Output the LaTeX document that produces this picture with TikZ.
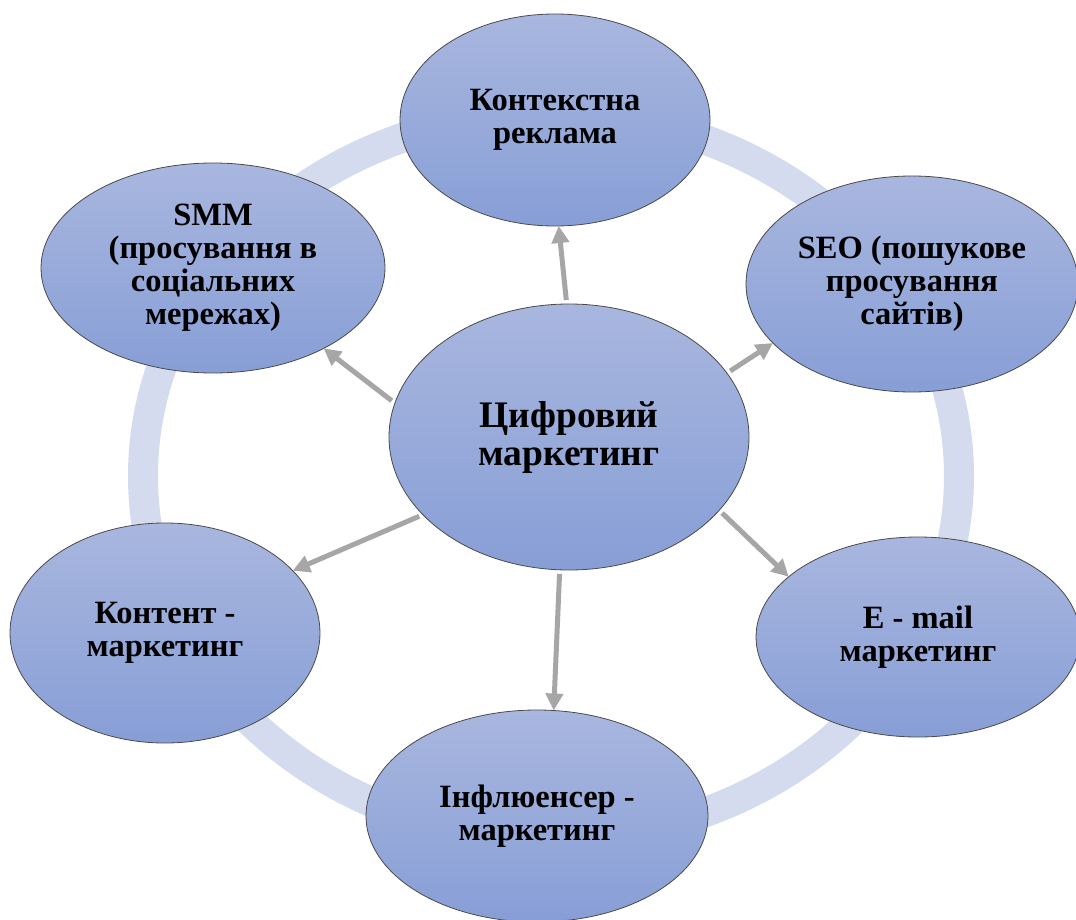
\documentclass[tikz,border=0pt]{standalone}
\usepackage{fontspec}
\setmainfont{Liberation Serif}
\usetikzlibrary{shapes.geometric,arrows.meta}
\definecolor{ringc}{HTML}{D5DBEE}
\definecolor{ftop}{HTML}{A9B7DF}
\definecolor{fbot}{HTML}{879ED6}
\definecolor{arrc}{HTML}{A6A6A6}
\definecolor{edgec}{HTML}{4A4A4A}
\begin{document}
\begin{tikzpicture}[x=1pt,y=-1pt,
  bub/.style={ellipse, draw=edgec, line width=0.8pt, top color=ftop, bottom color=fbot,
    inner sep=0pt, outer sep=0pt, align=center,
    font={\fontsize{32.5}{33}\selectfont\bfseries}},
  bigbub/.style={bub, font={\fontsize{37.5}{38}\selectfont\bfseries}},
  conn/.style={draw=arrc, line width=5pt, -{Triangle[length=17pt,width=17pt]}, shorten <=4pt}]
\useasboundingbox (0,0) rectangle (1076,920);
\fill[white] (0,0) rectangle (1076,920);
\draw[ringc, line width=30pt] (551,476) ellipse [x radius=408pt, y radius=363pt];

\node[bub, minimum width=310pt, minimum height=212pt] (top) at (555,120) {Контекстна\\реклама};
\node[bub, minimum width=332pt, minimum height=216pt] (seo) at (912,284) {SEO (пошукове\\просування\\сайтів)};
\node[bub, minimum width=344pt, minimum height=210pt] (smm) at (213,268) {SMM\\(просування в\\соціальних\\мережах)};
\node[bigbub, minimum width=360pt, minimum height=266pt] (c) at (569,437) {Цифровий\\маркетинг};
\node[bub, minimum width=310pt, minimum height=220pt] (kont) at (165,633) {Контент -\\маркетинг};
\node[bub, minimum width=324pt, minimum height=200pt] (mail) at (918,637) {E - mail\\маркетинг};
\node[bub, minimum width=342pt, minimum height=212pt] (infl) at (537,816) {Інфлюенсер -\\маркетинг};

\draw[conn] (c.91) -- (top.272);
\draw[conn] (c.22) -- (seo.203);
\draw[conn] (c.169) -- (smm.324);
\draw[conn] (c.208) -- (kont.26);
\draw[conn] (c.266) -- (infl.81);
\draw[conn] (c.334) -- (mail.155);
\end{tikzpicture}
\end{document}
